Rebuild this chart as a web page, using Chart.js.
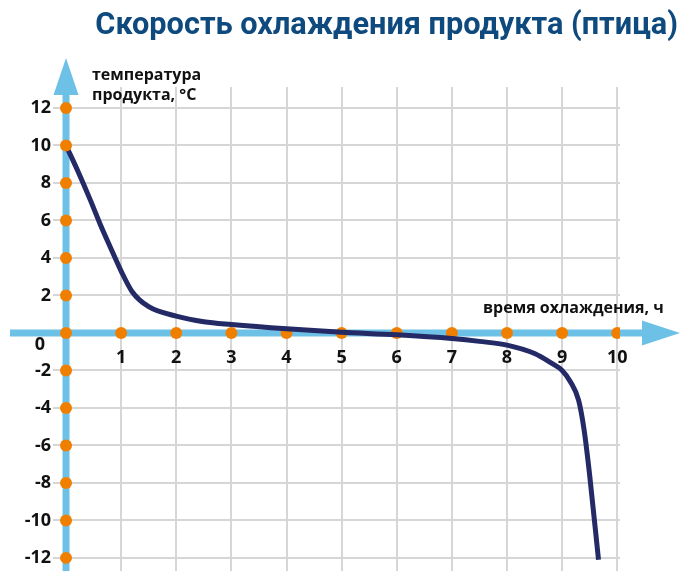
<!DOCTYPE html>
<html>
<head>
<meta charset="utf-8">
<script src="https://cdn.jsdelivr.net/npm/chart.js@4/dist/chart.umd.min.js"></script>
<style>
  html, body { margin: 0; padding: 0; background: #ffffff; }
  #wrap { position: relative; width: 680px; height: 571px; }
</style>
</head>
<body>
<div id="wrap"><canvas id="c" width="680" height="571"></canvas></div>
<script>
// ---- data ----
const chartTitle = 'Скорость охлаждения продукта (птица)';
const yAxisTitle = ['температура', 'продукта, °C'];
const xAxisTitle = 'время охлаждения, ч';
const xTicks = [0, 1, 2, 3, 4, 5, 6, 7, 8, 9, 10];
const yTicks = [-12, -10, -8, -6, -4, -2, 0, 2, 4, 6, 8, 10, 12];
const curveX = [0, 0.22, 0.44, 0.62, 0.8, 1.0, 1.2, 1.5, 2.0, 2.5, 3.0, 4.0, 5.0, 6.0, 7.0, 7.5, 8.0, 8.5, 8.8, 9.0, 9.15, 9.3, 9.4, 9.5, 9.66];
const curveY = [10, 8.6, 7.1, 5.8, 4.6, 3.3, 2.2, 1.4, 0.9, 0.6, 0.45, 0.22, 0.04, -0.1, -0.3, -0.45, -0.65, -1.1, -1.6, -2.0, -2.6, -3.6, -5.2, -7.6, -12.1];

// ---- styles ----
const NAVY = '#232a66';
const ORANGE = '#f07f00';
const AXIS_BLUE = '#6ec1e6';
const GRID = '#d6d6d6';
const TITLE_BLUE = '#0e4a7d';
const TEXT = '#111111';

const decor = {
  id: 'decor',
  beforeDatasetsDraw(chart) {
    const ctx = chart.ctx;
    const xs = chart.scales.x, ys = chart.scales.y;
    const x0 = xs.getPixelForValue(0), y0 = ys.getPixelForValue(0);
    const ca = chart.chartArea;
    ctx.save();
    ctx.strokeStyle = AXIS_BLUE;
    ctx.fillStyle = AXIS_BLUE;
    ctx.lineWidth = 7;
    ctx.lineCap = 'butt';
    // x axis
    ctx.beginPath();
    ctx.moveTo(10, y0);
    ctx.lineTo(chart.width - 34, y0);
    ctx.stroke();
    ctx.beginPath();
    ctx.moveTo(chart.width, y0);
    ctx.lineTo(chart.width - 38, y0 - 12.5);
    ctx.lineTo(chart.width - 38, y0 + 12.5);
    ctx.closePath();
    ctx.fill();
    // y axis
    ctx.beginPath();
    ctx.moveTo(x0, chart.height);
    ctx.lineTo(x0, ca.top + 4);
    ctx.stroke();
    ctx.beginPath();
    ctx.moveTo(x0, ca.top - 29);
    ctx.lineTo(x0 - 12.5, ca.top + 8);
    ctx.lineTo(x0 + 12.5, ca.top + 8);
    ctx.closePath();
    ctx.fill();
    ctx.restore();
  },
  afterDraw(chart) {
    const ctx = chart.ctx;
    const xs = chart.scales.x, ys = chart.scales.y;
    const x0 = xs.getPixelForValue(0), y0 = ys.getPixelForValue(0);
    ctx.save();
    ctx.fillStyle = TEXT;
    ctx.font = 'bold 18px "Open Sans"';
    ctx.textBaseline = 'middle';
    // y tick labels
    yTicks.forEach(v => {
      if (v === 0) {
        ctx.textAlign = 'center';
        ctx.fillText('0', x0 - 26, y0 + 12);
      } else {
        ctx.textAlign = 'right';
        ctx.fillText(String(v), x0 - 15, ys.getPixelForValue(v));
      }
    });
    // x tick labels
    ctx.textAlign = 'center';
    xTicks.forEach(v => {
      if (v === 0) return;
      ctx.fillText(String(v), xs.getPixelForValue(v), y0 + 25);
    });
    // axis titles
    ctx.font = 'bold 16px "Open Sans"';
    ctx.textAlign = 'left';
    ctx.fillText(yAxisTitle[0], 92, 75);
    ctx.fillText(yAxisTitle[1], 92, 95);
    ctx.fillText(xAxisTitle, 483, 308);
    // main title
    ctx.fillStyle = TITLE_BLUE;
    ctx.font = 'bold 30.7px Roboto';
    ctx.textAlign = 'right';
    ctx.fillText(chartTitle, 678, 26);
    ctx.restore();
  }
};

new Chart(document.getElementById('c'), {
  type: 'scatter',
  data: {
    datasets: [
      {
        label: 'y dots',
        data: yTicks.map(v => ({ x: 0, y: v })),
        pointRadius: 6,
        pointBackgroundColor: ORANGE,
        pointBorderWidth: 0,
        showLine: false,
        order: 0
      },
      {
        label: 'curve',
        data: curveX.map((x, i) => ({ x: x, y: curveY[i] })),
        showLine: true,
        borderColor: NAVY,
        borderWidth: 5,
        borderCapStyle: 'butt',
        pointRadius: 0,
        cubicInterpolationMode: 'monotone',
        fill: false,
        order: 1
      },
      {
        label: 'x dots',
        data: xTicks.filter(v => v > 0).map(v => ({ x: v, y: 0 })),
        pointRadius: 6,
        pointBackgroundColor: ORANGE,
        pointBorderWidth: 0,
        showLine: false,
        order: 2
      }
    ]
  },
  options: {
    responsive: false,
    animation: false,
    layout: { autoPadding: false, padding: { left: 53, right: 60, top: 87, bottom: 0 } },
    plugins: { legend: { display: false }, tooltip: { enabled: false }, title: { display: false } },
    scales: {
      x: {
        type: 'linear', min: -0.236, max: 10.05,
        afterBuildTicks: s => { s.ticks = xTicks.map(v => ({ value: v })); },
        afterFit: s => { s.height = 0; s.paddingLeft = 0; s.paddingRight = 0; },
        ticks: { display: false },
        grid: { color: GRID, lineWidth: 2, drawTicks: false },
        border: { display: false }
      },
      y: {
        type: 'linear', min: -12.7, max: 13.12,
        afterBuildTicks: s => { s.ticks = yTicks.map(v => ({ value: v })); },
        afterFit: s => { s.width = 0; s.paddingTop = 0; s.paddingBottom = 0; },
        ticks: { display: false },
        grid: { color: GRID, lineWidth: 2, drawTicks: false },
        border: { display: false }
      }
    }
  },
  plugins: [decor]
});
</script>
</body>
</html>
